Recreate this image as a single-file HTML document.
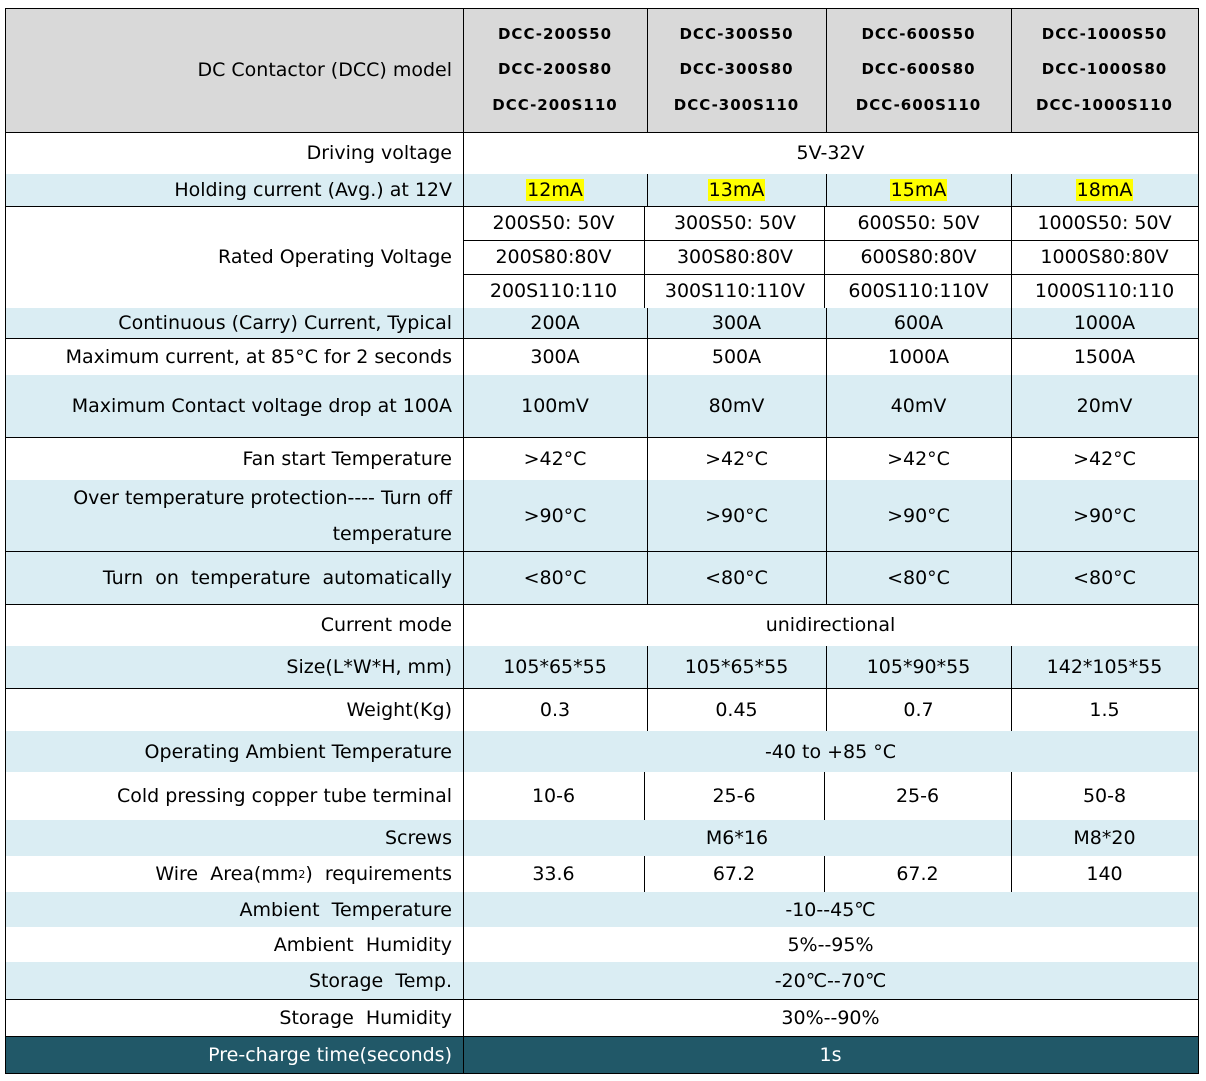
<!DOCTYPE html>
<html><head><meta charset="utf-8">
<style>
body{margin:0;width:1206px;height:1081px;background:#fff;position:relative;overflow:hidden;font-family:"DejaVu Sans","Liberation Sans","Noto Sans CJK SC",sans-serif;color:#000}
.c{position:absolute;display:flex;align-items:center;justify-content:center;font-size:19px;box-sizing:border-box;white-space:nowrap}
.l{justify-content:flex-end;padding-right:11px;text-align:right}
.h{font-weight:bold;font-size:15px;letter-spacing:1px;flex-direction:column;line-height:35.5px}
.hl{position:absolute;height:1px;background:#000}
.vl{position:absolute;width:1px;background:#000}
.bg{position:absolute}
mark{background:#ffff00;padding:0 1px}
</style></head>
<body>
<div id="t"></div>
<script>
const B='#daedf3', W='#ffffff', G='#d9d9d9', T='#215868';
const X=[5,463,647,826,1011,1198];
// rows: [y0,y1,bg]
const rows=[[8,132,G],[132,174,W],[174,206,B],[206,308,W],[308,338,B],[338,375,W],[375,437,B],[437,480,W],[480,551,B],[551,604,B],[604,646,W],[646,688,B],[688,731,W],[731,772,B],[772,820,W],[820,856,B],[856,892,W],[892,927,B],[927,962,W],[962,999,B],[999,1036,W],[1036,1073,T]];
const t=document.getElementById('t');
function add(cls,x,y,w,h,name){const d=document.createElement('div');d.className=cls;d.style.left=x+'px';d.style.top=y+'px';d.style.width=w+'px';d.style.height=h+'px';t.appendChild(d);return d;}
rows.forEach((r,i)=>{const d=add('bg',X[0],r[0],X[5]-X[0],r[1]-r[0]);d.style.background=r[2];

});
function cell(x0,x1,y0,y1,html,cls,name){const d=add('c '+(cls||''),x0,y0,x1-x0,y1-y0);d.innerHTML=html;

return d;}
const labels=[[8,132,'DC Contactor (DCC) model'],[132,174,'Driving voltage'],[174,206,'Holding current (Avg.) at 12V'],[206,308,'Rated Operating Voltage'],[308,338,'Continuous (Carry) Current, Typical'],[338,375,'Maximum current, at 85°C for 2 seconds'],[375,437,'Maximum Contact voltage drop at 100A'],[437,480,'Fan start Temperature'],[480,551,'Over temperature protection---- Turn off<br>temperature'],[551,604,'Turn&nbsp; on&nbsp; temperature&nbsp; automatically'],[604,646,'Current mode'],[646,688,'Size(L*W*H, mm)'],[688,731,'Weight(Kg)'],[731,772,'Operating Ambient Temperature'],[772,820,'Cold pressing copper tube terminal'],[820,856,'Screws'],[856,892,'Wire&nbsp; Area(mm<sup style="font-size:11px">2</sup>)&nbsp; requirements'],[892,927,'Ambient&nbsp; Temperature'],[927,962,'Ambient&nbsp; Humidity'],[962,999,'Storage&nbsp; Temp.'],[999,1036,'Storage&nbsp; Humidity'],[1036,1073,'Pre-charge time(seconds)']];
labels.forEach(l=>{const d=cell(X[0],X[1],l[0],l[1],l[2],'l','row-label');if(l[2].includes('<br>')){d.style.lineHeight='36px';d.style.whiteSpace='normal';d.style.paddingLeft='20px';}if(l[0]==1036)d.style.color='#fff';});
const models=['DCC-200S50<br>DCC-200S80<br>DCC-200S110','DCC-300S50<br>DCC-300S80<br>DCC-300S110','DCC-600S50<br>DCC-600S80<br>DCC-600S110','DCC-1000S50<br>DCC-1000S80<br>DCC-1000S110'];
models.forEach((m,i)=>cell(X[i+1],X[i+2],8,132,'<div>'+m.split('<br>').join('</div><div>')+'</div>','h','model-header'));
function four(y0,y1,vals,name,xs){const xx=xs||X;vals.forEach((v,i)=>cell(xx[i+1],xx[i+2],y0,y1,v,'',name));}
function span(y0,y1,v,name,color){const d=cell(X[1],X[5],y0,y1,v,'',name);if(color)d.style.color=color;}
span(132,174,'5V-32V','driving-voltage-value');
four(174,206,['<mark>12mA</mark>','<mark>13mA</mark>','<mark>15mA</mark>','<mark>18mA</mark>'],'holding-current-value');
const XR=[5,463,644,826,1011,1198];
four(206,240,['200S50: 50V','300S50: 50V','600S50: 50V','1000S50: 50V'],'rated-voltage-value',XR);
four(240,274,['200S80:80V','300S80:80V','600S80:80V','1000S80:80V'],'rated-voltage-value',XR);
four(274,308,['200S110:110','300S110:110V','600S110:110V','1000S110:110'],'rated-voltage-value',XR);
four(308,338,['200A','300A','600A','1000A'],'carry-current-value');
four(338,375,['300A','500A','1000A','1500A'],'max-current-value');
four(375,437,['100mV','80mV','40mV','20mV'],'voltage-drop-value');
four(437,480,['&gt;42°C','&gt;42°C','&gt;42°C','&gt;42°C'],'fan-start-value');
four(480,551,['&gt;90°C','&gt;90°C','&gt;90°C','&gt;90°C'],'turn-off-temp-value');
four(551,604,['&lt;80°C','&lt;80°C','&lt;80°C','&lt;80°C'],'turn-on-temp-value');
span(604,646,'unidirectional','current-mode-value');
four(646,688,['105*65*55','105*65*55','105*90*55','142*105*55'],'size-value');
four(688,731,['0.3','0.45','0.7','1.5'],'weight-value');
span(731,772,'-40 to +85 °C','operating-temp-value');
const XC=[5,463,644,824,1011,1198];
four(772,820,['10-6','25-6','25-6','50-8'],'terminal-value',XC);
cell(463,1011,820,856,'M6*16','','screws-value');
cell(1011,1198,820,856,'M8*20','','screws-value');
four(856,892,['33.6','67.2','67.2','140'],'wire-area-value',XC);
span(892,927,'-10--45℃','ambient-temp-value');
span(927,962,'5%--95%','ambient-humidity-value');
span(962,999,'-20℃--70℃','storage-temp-value');
span(999,1036,'30%--90%','storage-humidity-value');
span(1036,1073,'1s','precharge-value','#fff');
function hl(y,x0,x1){const d=add('hl',x0,y,x1-x0+1,1);

}
function vl(x,y0,y1){const d=add('vl',x,y0,1,y1-y0);

}
[8,132,206,338,437,551,604,688,999,1036,1073].forEach(y=>hl(y,5,1198));
hl(240,463,1198);hl(274,463,1198);
vl(5,8,1073);vl(463,8,1073);vl(1198,8,1073);
const segs=[[8,132],[174,206],[308,604],[646,731]];
segs.forEach(s=>{vl(647,s[0],s[1]);vl(826,s[0],s[1]);vl(1011,s[0],s[1]);});
vl(644,206,308);vl(824,206,308);vl(1011,206,308);
vl(644,772,820);vl(824,772,820);vl(1011,772,820);
vl(1011,820,856);
vl(644,856,892);vl(824,856,892);vl(1011,856,892);
</script>
</body></html>
